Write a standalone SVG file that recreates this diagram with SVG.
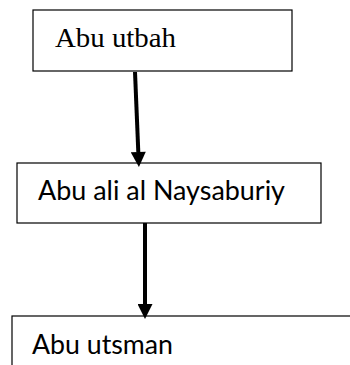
<svg xmlns="http://www.w3.org/2000/svg" width="350" height="365" viewBox="0 0 350 365">
  <style>
    .box { fill: #ffffff; stroke: #000000; stroke-width: 1.2; }
    .serif { font-family: "Liberation Serif", "Times New Roman", serif; font-size: 27px; fill: #000000; }
    .sans { font-family: Lato, "Liberation Sans", sans-serif; font-size: 26px; fill: #000000; }
    .edge { fill: none; stroke: #000000; stroke-width: 4; marker-end: url(#head); }
  </style>
  <defs>
    <marker id="head" viewBox="0 0 10 10" refX="0" refY="5" markerWidth="16" markerHeight="15" markerUnits="userSpaceOnUse" orient="auto">
      <path d="M0,0 L10,5 L0,10 z" fill="#000000"/>
    </marker>
  </defs>

  <rect width="350" height="365" fill="#ffffff"/>

  <g id="node-abu-utbah">
    <rect class="box" x="33" y="10" width="259" height="61"/>
    <text class="serif" x="55" y="47" textLength="121" lengthAdjust="spacingAndGlyphs">Abu utbah</text>
  </g>

  <g id="node-abu-ali">
    <rect class="box" x="17" y="163" width="304" height="60"/>
    <text class="sans" x="38" y="200" textLength="247" lengthAdjust="spacingAndGlyphs">Abu ali al Naysaburiy</text>
  </g>

  <g id="node-abu-utsman">
    <rect class="box" x="12" y="316" width="350" height="60"/>
    <text class="sans" x="32" y="354" textLength="141" lengthAdjust="spacingAndGlyphs">Abu utsman</text>
  </g>

  <g id="connectors">
    <path class="edge" d="M135,72 L138.3,152"/>
    <path class="edge" d="M145,223 L145,304"/>
  </g>
</svg>
